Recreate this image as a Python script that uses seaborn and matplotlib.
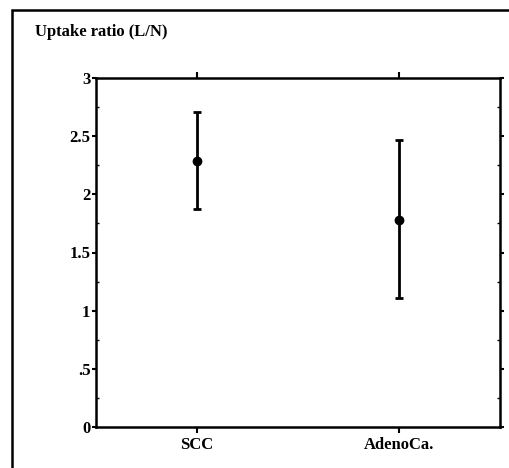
import pandas as pd
import matplotlib
matplotlib.use('Agg')
import matplotlib.pyplot as plt
import seaborn as sns
from matplotlib.patches import Rectangle
from matplotlib.ticker import MultipleLocator

groups = ['SCC', 'AdenoCa.']
means = [2.29, 1.78]
upper = [2.71, 2.47]
lower = [1.87, 1.11]
ytick_vals = [0, 0.5, 1, 1.5, 2, 2.5, 3]
ytick_labels = ['0', '.5', '1', '1.5', '2', '2.5', '3']

df = pd.DataFrame({'group': groups, 'mean': means, 'upper': upper, 'lower': lower})

sns.set_style('white')
plt.rcParams['font.family'] = ['Liberation Serif', 'DejaVu Serif']
plt.rcParams['font.weight'] = 'bold'
plt.rcParams['text.color'] = 'black'
plt.rcParams['xtick.color'] = 'black'
plt.rcParams['ytick.color'] = 'black'
plt.rcParams['xtick.labelcolor'] = 'black'
plt.rcParams['ytick.labelcolor'] = 'black'

fig = plt.figure(figsize=(5.1, 4.68), dpi=100)
ax = fig.add_axes([96 / 510, 1 - 427 / 468, 404 / 510, 349 / 468])

# mean points
sns.pointplot(data=df, x='group', y='mean', color='black', linestyle='none',
              errorbar=None, markers='o', markersize=5, ax=ax)

# error bars (range)
xpos = range(len(groups))
ax.errorbar(list(xpos), df['mean'],
            yerr=[df['mean'] - df['lower'], df['upper'] - df['mean']],
            fmt='none', ecolor='black', elinewidth=2, capsize=3, capthick=2)

ax.set_xlim(-0.5, 1.5)
ax.set_ylim(0, 3)
ax.set_xlabel('')
ax.set_ylabel('')
ax.set_yticks(ytick_vals)
ax.set_yticklabels(ytick_labels, fontsize=12, fontweight='bold', color='black')
ax.yaxis.set_minor_locator(MultipleLocator(0.25))
ax.set_xticks(list(xpos))
ax.set_xticklabels(groups, fontsize=12, fontweight='bold', color='black')

for s in ax.spines.values():
    s.set_visible(True)
    s.set_color('black')
    s.set_linewidth(1.8)

ax.tick_params(axis='y', which='major', direction='out', length=3, width=1.5,
               left=True, right=True, pad=1, colors='black')
ax.tick_params(axis='y', which='minor', direction='in', length=2, width=1,
               left=True, right=True)
ax.tick_params(axis='x', which='major', direction='out', length=4, width=1.5,
               bottom=True, top=True, pad=3, colors='black')

fig.text(35 / 510, 1 - 32 / 468, 'Uptake ratio (L/N)', fontsize=12,
         fontweight='bold', va='center', ha='left', color='black')

# outer frame of the figure panel (runs off the right and bottom edges)
frame = Rectangle((12 / 510, -0.05), 1.0, 1.05 - 10 / 468,
                  transform=fig.transFigure, fill=False, edgecolor='black',
                  linewidth=1.8, clip_on=False)
fig.patches.append(frame)

fig.savefig('out.png', dpi=100)
